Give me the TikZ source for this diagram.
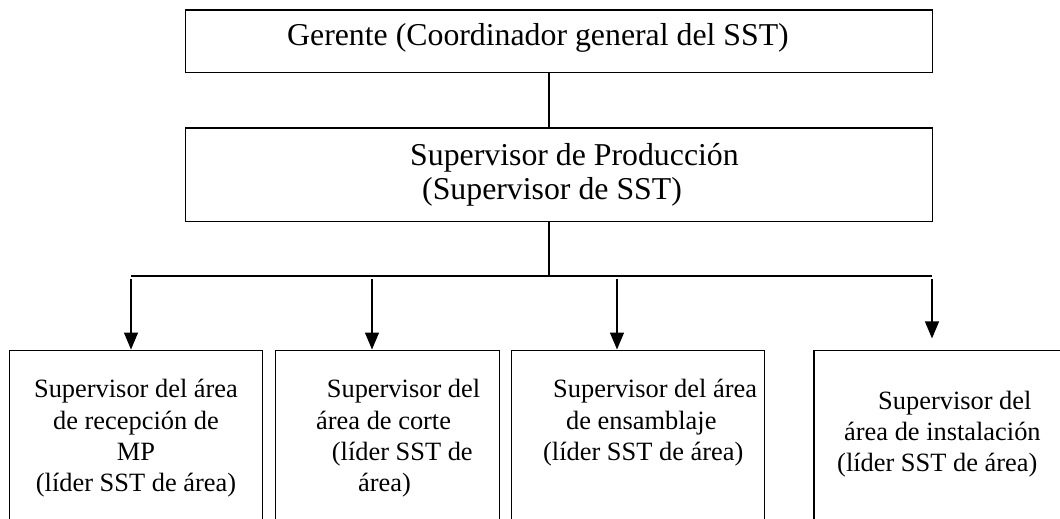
\documentclass[tikz,border=0pt]{standalone}
\usepackage{fontspec}
\setmainfont{Liberation Serif}
\usetikzlibrary{arrows.meta}
\begin{document}
\begin{tikzpicture}[x=1pt,y=-1pt,
  box/.style={draw, line width=1.4pt, inner sep=0pt, anchor=north west},
  bigtxt/.style={font=\fontsize{31.8}{34}\selectfont, inner sep=0pt, anchor=base west},
  smalltxt/.style={font=\fontsize{26.4}{31}\selectfont, inner sep=0pt, anchor=base west},
  ctxt/.style={font=\fontsize{26.4}{31}\selectfont, inner sep=0pt, anchor=base},
  conn/.style={line width=1.4pt},
  arr/.style={line width=1.4pt, -{Triangle[length=17pt,width=14pt]}}]
\useasboundingbox (0,0) rectangle (1060,519);
\clip (0,0) rectangle (1060,519);
% top boxes
\node[box, minimum width=747pt, minimum height=62.4pt] (ger) at (185,9.3) {};
\node[box, minimum width=747pt, minimum height=93.7pt] (sup) at (185,127.3) {};
\node[bigtxt] (tger) at (287,46) {Gerente (Coordinador general del SST)};
\node[bigtxt] (tsup1) at (410,165) {Supervisor de Producción};
\node[bigtxt] (tsup2) at (422,199) {(Supervisor de SST)};
% bottom boxes
\node[box, minimum width=253pt, minimum height=200pt] (b1) at (8.8,349.5) {};
\node[box, minimum width=224pt, minimum height=200pt] (b2) at (274.5,349.5) {};
\node[box, minimum width=253pt, minimum height=200pt] (b3) at (511,349.5) {};
\node[box, minimum width=300pt, minimum height=200pt] (b4) at (813.3,349.5) {};
% box 1 text
\node[ctxt] (t1a) at (136,397) {Supervisor del área};
\node[ctxt] (t1b) at (136,429) {de recepción de};
\node[ctxt] (t1c) at (136,460) {MP};
\node[ctxt] (t1d) at (136,491) {(líder SST de área)};
% box 2 text
\node[smalltxt] (t2a) at (326.7,397) {Supervisor del};
\node[smalltxt] (t2b) at (316,429) {área de corte};
\node[smalltxt] (t2c) at (331.7,460) {(líder SST de};
\node[smalltxt] (t2d) at (358,491) {área)};
% box 3 text
\node[smalltxt] (t3a) at (553,397) {Supervisor del área};
\node[smalltxt] (t3b) at (566,429) {de ensamblaje};
\node[smalltxt] (t3c) at (543,460) {(líder SST de área)};
% box 4 text
\node[smalltxt] (t4a) at (878,409) {Supervisor del};
\node[smalltxt] (t4b) at (844,440) {área de instalación};
\node[smalltxt] (t4c) at (837,471) {(líder SST de área)};
% connectors
\coordinate (jx) at (549,276);
\coordinate (hl) at (131,276);
\coordinate (hr) at (932,276);
\draw[conn] (ger.south -| jx) -- (sup.north -| jx);
\draw[conn] (sup.south -| jx) -- (jx);
\draw[conn] (hl) -- (hr);
\coordinate (a1) at (131,279);
\coordinate (a2) at (372,279);
\coordinate (a3) at (617,279);
\coordinate (a4) at (932,279);
\coordinate (e4) at (932,338.4);
\draw[arr] (a1) -- (a1 |- b1.north);
\draw[arr] (a2) -- (a2 |- b2.north);
\draw[arr] (a3) -- (a3 |- b3.north);
\draw[arr] (a4) -- (e4);
\end{tikzpicture}
\end{document}
